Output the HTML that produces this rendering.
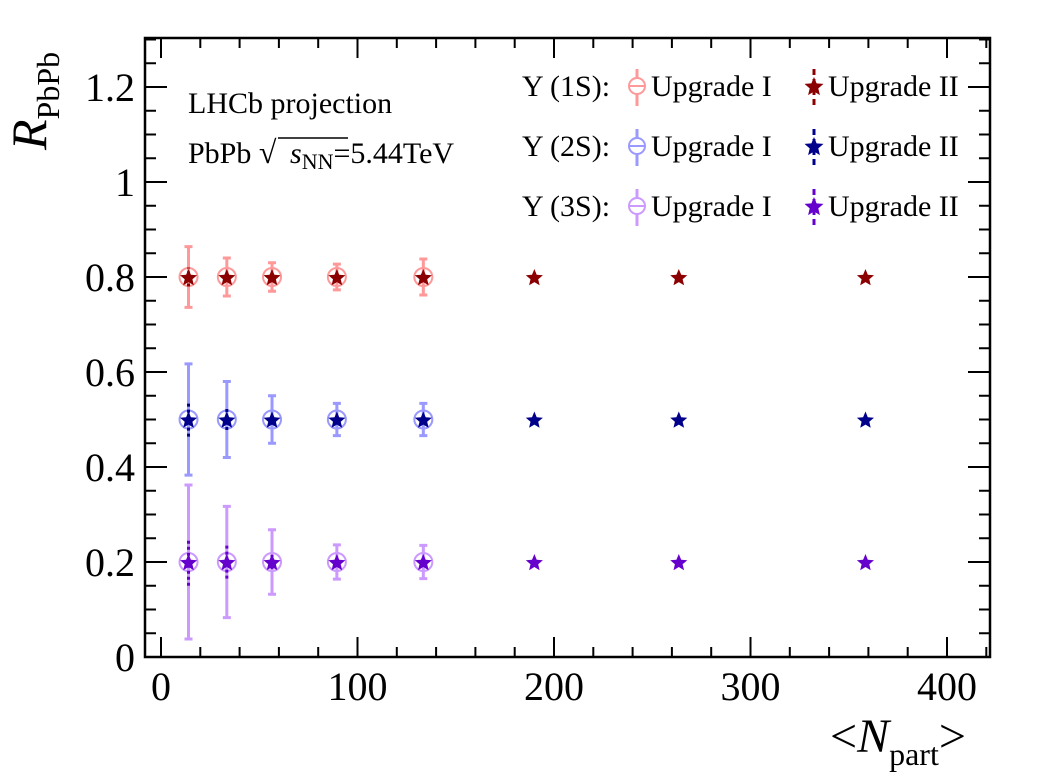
<!DOCTYPE html>
<html><head><meta charset="utf-8"><style>body{margin:0;background:#fff}svg{display:block;font-family:"Liberation Serif",serif}</style></head>
<body>
<svg id="chart" width="1041" height="781" xmlns="http://www.w3.org/2000/svg">
<rect width="1041" height="781" fill="#fff"/>
<g id="marks"></g>
<rect x="145" y="38" width="845" height="619" fill="none" stroke="#000" stroke-width="2.5"/>
<g id="axes"></g>
<text x="0" y="0" transform="translate(46,150) rotate(-90)" font-size="50" font-style="italic">R<tspan font-style="normal" font-size="32" dy="13">PbPb</tspan></text>
<text x="830" y="752" font-size="48">&lt;<tspan font-style="italic">N</tspan><tspan font-size="32" dy="13">part</tspan><tspan dy="-13">&gt;</tspan></text>
<text x="188" y="113" font-size="30">LHCb projection</text>
<text x="188" y="163" font-size="30">PbPb <tspan font-size="32">√</tspan></text>
<path d="M278 138 H348" stroke="#000" stroke-width="1.5"/>
<text x="290" y="163" font-size="30"><tspan font-style="italic">s</tspan><tspan font-size="22" dy="6">NN</tspan><tspan dy="-6">=5.44TeV</tspan></text>
<g id="legend"></g>
</svg>
<script>
const categories=[14,33.5,56.5,89.5,133.5,190,263.5,358.5];
const rValues1S=[0.8,0.8,0.8,0.8,0.8,0.8,0.8,0.8];
const rValues2S=[0.5,0.5,0.5,0.5,0.5,0.5,0.5,0.5];
const rValues3S=[0.2,0.2,0.2,0.2,0.2,0.2,0.2,0.2];
const errUp1_1S=[0.064,0.04,0.03,0.027,0.038];
const errUp1_2S=[0.117,0.08,0.05,0.034,0.034];
const errUp1_3S=[0.162,0.117,0.068,0.036,0.035];
const errUp2_1S=[0.02,0.01,0.006,0.004,0.004,0.004,0.003,0.003];
const errUp2_2S=[0.036,0.022,0.01,0.006,0.005,0.004,0.004,0.004];
const errUp2_3S=[0.05,0.035,0.015,0.008,0.006,0.005,0.005,0.005];
const xTicks=[0,100,200,300,400];
const yTicks=[0,0.2,0.4,0.6,0.8,1,1.2];
const yTickLabels=["0","0.2","0.4","0.6","0.8","1","1.2"];
const NS="http://www.w3.org/2000/svg";
const X=v=>161+v*1.965, Y=v=>657-v*475;
function mk(p,t,a){const e=document.createElementNS(NS,t);for(const k in a)e.setAttribute(k,a[k]);p.appendChild(e);return e;}
const ax=document.getElementById('axes'),mg=document.getElementById('marks'),lg=document.getElementById('legend');
for(let v=0;v<=420;v+=20){const big=v%100===0,L=big?20:10;
 const t=mk(ax,'path',{d:`M${X(v)} 657v-${L}M${X(v)} 38v${L}`,stroke:'#000','stroke-width':2});
 }
for(let i=0;i<=26;i++){const v=i*0.05,big=i%4===0,L=big?22:11;
 const t=mk(ax,'path',{d:`M145 ${Y(v)}h${L}M990 ${Y(v)}h-${L}`,stroke:'#000','stroke-width':2});
 }
xTicks.forEach(v=>{const t=mk(ax,'text',{x:X(v),y:700,'font-size':40,'text-anchor':'middle'});t.textContent=v;
 });
yTicks.forEach((v,i)=>{const t=mk(ax,'text',{x:135,y:Y(v)+14,'font-size':40,'text-anchor':'end'});t.textContent=yTickLabels[i];
 });
function star(g,cx,cy,r,c){let d='';for(let i=0;i<10;i++){const a=-Math.PI/2+i*Math.PI/5,rr=i%2?r*0.45:r;d+=(i?'L':'M')+(cx+rr*Math.cos(a)).toFixed(1)+' '+(cy+rr*Math.sin(a)).toFixed(1);}
 return mk(g,'path',{d:d+'Z',fill:c});}
const series=[[rValues1S,errUp1_1S,errUp2_1S,'#ff9999','#8b0000'],[rValues2S,errUp1_2S,errUp2_2S,'#9999ff','#00008b'],[rValues3S,errUp1_3S,errUp2_3S,'#cc99ff','#6600cc']];
series.forEach(([vals,e1,e2,c1,c2],si)=>{
 e1.forEach((e,i)=>{const g=mk(mg,'g',{});
  
  const x=X(categories[i]),y0=Y(vals[i]-e),y1=Y(vals[i]+e);
  mk(g,'path',{d:`M${x} ${y0}V${y1}M${x-4} ${y0}h8M${x-4} ${y1}h8`,stroke:c1,'stroke-width':3,fill:'none'});
  mk(g,'circle',{cx:x,cy:Y(vals[i]),r:9,fill:'none',stroke:c1,'stroke-width':2});});
 e2.forEach((e,i)=>{const g=mk(mg,'g',{});
  
  const x=X(categories[i]),y0=Y(vals[i]-e),y1=Y(vals[i]+e);
  mk(g,'path',{d:`M${x} ${y0}V${y1}`,stroke:c2,'stroke-width':3,'stroke-dasharray':'3,3'});
  star(g,x,Y(vals[i])+1,9,c2);});
 const ly=86+si*60, g=mk(lg,'g',{});
 
 const t=mk(g,'text',{x:522,y:ly+10,'font-size':30});t.textContent=['Υ (1S):','Υ (2S):','Υ (3S):'][si];
 mk(g,'path',{d:`M637 ${ly-17}V${ly+20}`,stroke:c1,'stroke-width':3});
 mk(g,'circle',{cx:637,cy:ly,r:8,fill:'#fff',stroke:c1,'stroke-width':2});
 mk(g,'path',{d:`M629 ${ly}h16`,stroke:c1,'stroke-width':2});
 const t2=mk(g,'text',{x:651,y:ly+10,'font-size':30});t2.textContent='Upgrade I';
 mk(g,'path',{d:`M814 ${ly-17}V${ly+20}`,stroke:c2,'stroke-width':3,'stroke-dasharray':'6,4'});
 star(g,814,ly+1,10,c2);
 const t3=mk(g,'text',{x:828,y:ly+10,'font-size':30});t3.textContent='Upgrade II';
});
</script>
</body></html>
